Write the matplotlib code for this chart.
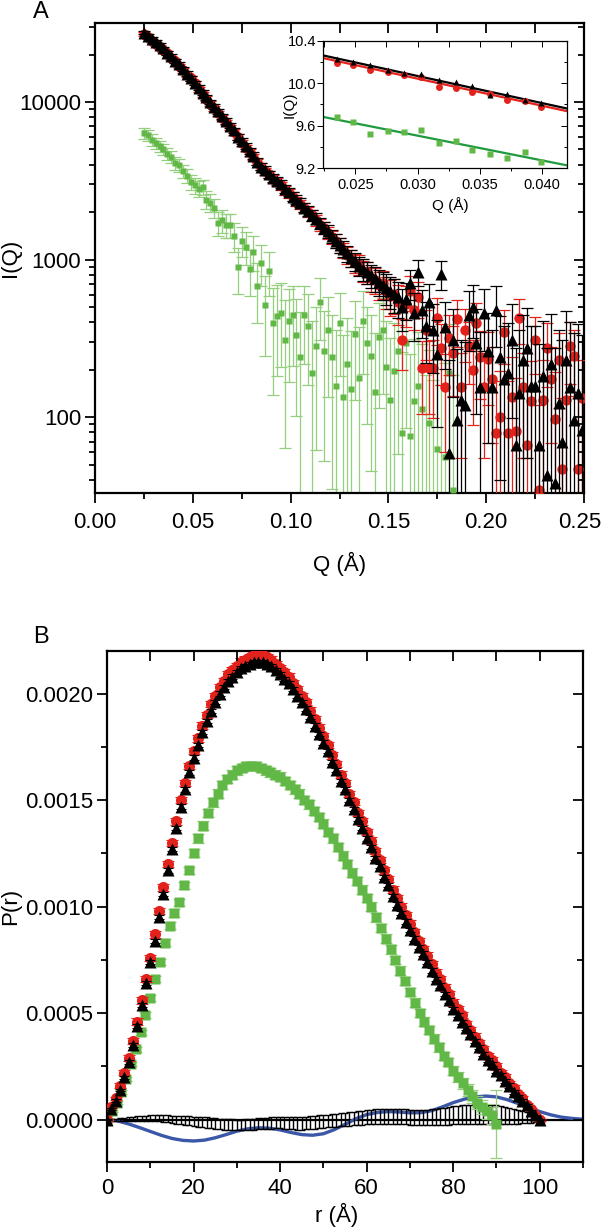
import numpy as np
import matplotlib
matplotlib.use("Agg")
import matplotlib.pyplot as plt
from matplotlib.ticker import LogLocator, NullFormatter, MultipleLocator, FixedLocator
from matplotlib.transforms import ScaledTranslation

plt.rcParams['font.family'] = ['Liberation Sans', 'DejaVu Sans']

# ---------------- panel A : scattering curves ----------------
# log10 I(Q) on a Q grid starting at q_start with step q_step
q_start = 0.025
q_step = 0.002
black_logI = [
    4.44, 4.42, 4.40, 4.38, 4.36, 4.34, 4.31, 4.29, 4.26, 4.24,
    4.21, 4.18, 4.15, 4.12, 4.09, 4.06, 4.03, 4.00, 3.97, 3.94,
    3.91, 3.88, 3.85, 3.82, 3.78, 3.75, 3.72, 3.69, 3.66, 3.62,
    3.59, 3.57, 3.54, 3.52, 3.50, 3.48, 3.45, 3.43, 3.40, 3.38,
    3.36, 3.33, 3.31, 3.28, 3.26, 3.23, 3.20, 3.18, 3.15, 3.12,
    3.09, 3.07, 3.04, 3.01, 2.99, 2.96, 2.94, 2.92, 2.90, 2.88,
    2.86, 2.84, 2.82, 2.80, 2.78, 2.76, 2.70, 2.75, 2.85, 2.66,
    2.92, 2.68, 2.58, 2.73, 2.55, 2.40, 2.91, 2.57, 1.77, 2.49,
    1.98, 2.11, 2.08, 2.65, 2.70, 2.47, 2.19, 2.66, 2.42, 2.19,
    2.68, 2.38, 2.24, 2.28, 2.49, 1.82, 2.15, 2.36, 2.44, 2.20,
    2.20, 1.82, 2.26, 1.63, 2.34, 1.58, 2.09, 1.84, 2.36, 2.19,
    1.98, 2.15, 1.92]
red_logI = [
    4.43, 4.41, 4.39, 4.37, 4.35, 4.33, 4.31, 4.28, 4.26, 4.23,
    4.20, 4.17, 4.15, 4.12, 4.08, 4.05, 4.02, 3.99, 3.96, 3.93,
    3.90, 3.87, 3.84, 3.81, 3.78, 3.74, 3.71, 3.68, 3.65, 3.62,
    3.59, 3.56, 3.54, 3.51, 3.49, 3.47, 3.44, 3.42, 3.40, 3.37,
    3.35, 3.33, 3.30, 3.28, 3.25, 3.22, 3.20, 3.17, 3.14, 3.12,
    3.09, 3.06, 3.03, 3.01, 2.98, 2.97, 2.93, 2.92, 2.88, 2.87,
    2.84, 2.85, 2.80, 2.77, 2.78, 2.73, 2.49, 2.72, 2.80, 2.68,
    2.76, 2.31, 2.55, 2.31, 2.31, 2.63, 2.44, 2.19, 2.50, 2.41,
    2.62, 2.19, 2.55, 2.45, 2.30, 2.60, 2.38, 2.19, 2.37, 2.24,
    1.90, 2.00, 2.54, 1.90, 2.13, 1.91, 2.63, 2.19, 1.82, 2.10,
    2.49, 1.54, 2.11, 2.44, 2.24, 1.99, 2.36, 1.67, 2.11, 2.45,
    2.39, 1.67, 2.12]
black_err = [
    700, 680, 660, 640, 620, 600, 580, 560, 540, 520,
    500, 480, 460, 440, 420, 400, 380, 360, 340, 320,
    300, 290, 280, 270, 260, 250, 240, 230, 220, 210,
    200, 195, 190, 185, 180, 175, 170, 165, 160, 155,
    150, 148, 146, 144, 142, 140, 138, 136, 134, 132,
    130, 130, 130, 130, 130, 130, 135, 135, 135, 140,
    140, 140, 145, 145, 145, 150, 150, 150, 155, 155,
    155, 160, 160, 160, 165, 165, 170, 170, 170, 175,
    175, 180, 180, 185, 185, 190, 190, 195, 195, 200,
    200, 200, 205, 205, 210, 210, 215, 215, 220, 220,
    220, 225, 225, 230, 230, 235, 235, 240, 240, 245,
    245, 250, 250]
red_err = [
    680, 670, 650, 630, 610, 590, 570, 550, 530, 510,
    490, 470, 450, 430, 410, 390, 370, 350, 330, 310,
    295, 285, 275, 265, 255, 245, 235, 225, 215, 205,
    198, 192, 188, 182, 178, 172, 168, 162, 158, 152,
    150, 146, 144, 142, 140, 138, 136, 134, 132, 130,
    130, 128, 130, 132, 130, 132, 134, 136, 138, 140,
    142, 144, 146, 148, 150, 152, 110, 150, 158, 120,
    150, 100, 125, 100, 105, 140, 115, 95, 130, 120,
    140, 100, 130, 120, 110, 135, 110, 100, 115, 105,
    90, 95, 130, 90, 105, 95, 135, 100, 90, 100,
    120, 85, 100, 120, 105, 95, 115, 85, 100, 120,
    110, 85, 100]

g_start = 0.025
green_logI = [
    3.80, 3.79, 3.76, 3.74, 3.72, 3.70, 3.67, 3.65, 3.61, 3.60,
    3.56, 3.53, 3.49, 3.47, 3.45, 3.46, 3.38, 3.36, 3.33, 3.23,
    3.25, 3.22, 3.22, 3.15, 2.95, 3.12, 3.08, 2.94, 3.05, 2.83,
    2.98, 2.71, 2.93, 2.60, 2.64, 2.66, 2.49, 2.61, 2.65, 2.52,
    2.38, 2.65, 2.58, 2.28, 2.45, 2.73, 2.42, 2.55, 2.38, 2.20,
    2.60, 2.13, 2.34, 2.18, 2.53, 2.25, 2.61, 2.47, 2.39, 2.16,
    2.51, 2.55, 2.32, 2.11, 2.29, 2.42, 1.90, 2.47, 1.88, 2.10,
    2.20, 2.05, 1.40, 1.96, 1.35, 1.80, 1.30, 1.75, 2.28, 1.54]
green_err = [
    500, 480, 470, 450, 440, 420, 400, 390, 380, 370,
    360, 350, 340, 330, 320, 310, 305, 300, 300, 295,
    295, 290, 290, 290, 285, 285, 285, 280, 280, 280,
    275, 270, 265, 260, 255, 250, 245, 240, 235, 230,
    225, 230, 220, 215, 220, 230, 210, 220, 205, 200,
    215, 195, 205, 200, 210, 195, 220, 205, 200, 195,
    210, 215, 200, 190, 200, 205, 180, 210, 175, 185,
    190, 180, 160, 175, 150, 170, 140, 165, 200, 150]

# inset: Guinier region (ln I)
q_inset = [0.0235, 0.0248, 0.0262, 0.0276, 0.0289, 0.0303, 0.0317,
           0.0331, 0.0344, 0.0358, 0.0372, 0.0386, 0.0399]
black_ln = [10.226, 10.204, 10.173, 10.125, 10.094, 10.084, 10.030,
            10.008, 9.977, 9.888, 9.898, 9.847, 9.816]
red_ln = [10.195, 10.173, 10.130, 10.110, 10.078, 10.056, 9.967,
          9.960, 9.920, 9.895, 9.840, 9.830, 9.778]
green_ln = [9.683, 9.636, 9.522, 9.554, 9.538, 9.563, 9.437,
            9.456, 9.367, 9.336, 9.295, 9.352, 9.257]
fit_q = [0.0224, 0.0420]
fit_black = [10.264, 9.762]
fit_red = [10.239, 9.737]
fit_green = [9.683, 9.225]

# ---------------- panel B : pair distance distributions ----------------
r_tri = np.arange(0, 101)  # 1 A steps
pr_black = [
    0.0, 0.00005, 0.00009, 0.00014, 0.0002, 0.00027, 0.00035, 0.00044, 0.00054, 0.00064,
    0.00074, 0.00084, 0.00095, 0.00106, 0.00117, 0.00127, 0.00137, 0.00147, 0.00155, 0.00163,
    0.0017, 0.00176, 0.00182, 0.00187, 0.00192, 0.00196, 0.002, 0.00203, 0.00206, 0.00208,
    0.0021, 0.00212, 0.00213, 0.00214, 0.00215, 0.00215, 0.00215, 0.00214, 0.00213, 0.00211,
    0.00209, 0.00207, 0.00205, 0.00202, 0.00199, 0.00196, 0.00193, 0.00189, 0.00185, 0.00181,
    0.00177, 0.00173, 0.00168, 0.00164, 0.00159, 0.00155, 0.0015, 0.00146, 0.00141, 0.00137,
    0.00132, 0.00128, 0.00123, 0.00119, 0.00114, 0.0011, 0.00105, 0.00101, 0.00097, 0.00093,
    0.00089, 0.00085, 0.00081, 0.00078, 0.00074, 0.0007, 0.00066, 0.00063, 0.00059, 0.00056,
    0.00052, 0.00049, 0.00046, 0.00043, 0.0004, 0.00037, 0.00034, 0.00031, 0.00028, 0.00026,
    0.00023, 0.00021, 0.00018, 0.00016, 0.00013, 0.00011, 0.00009, 0.00007, 0.00004, 0.00002,
    0.0]
pr_red = [
    0.0, 0.00006, 0.0001, 0.00016, 0.00022, 0.00029, 0.00037, 0.00046, 0.00056, 0.00066,
    0.00076, 0.00087, 0.00098, 0.00109, 0.0012, 0.0013, 0.0014, 0.0015, 0.00158, 0.00166,
    0.00173, 0.00179, 0.00185, 0.0019, 0.00195, 0.00199, 0.00203, 0.00206, 0.00209, 0.00211,
    0.00213, 0.00215, 0.00216, 0.00217, 0.00218, 0.00218, 0.00218, 0.00217, 0.00216, 0.00214,
    0.00212, 0.0021, 0.00208, 0.00205, 0.00202, 0.00199, 0.00196, 0.00192, 0.00188, 0.00184,
    0.0018, 0.00176, 0.00171, 0.00167, 0.00162, 0.00158, 0.00153, 0.00149, 0.00144, 0.0014,
    0.00135, 0.00131, 0.00126, 0.00122, 0.00117, 0.00113, 0.00108, 0.00104, 0.001, 0.00096,
    0.00092, 0.00088, 0.00084, 0.0008, 0.00077, 0.00073, 0.00069, 0.00066, 0.00062, 0.00059,
    0.00055, 0.00052, 0.00049, 0.00045, 0.00042, 0.00039, 0.00036, 0.00033, 0.0003, 0.00028,
    0.00025, 0.00022, 0.0002, 0.00017, 0.00015, 0.00012, 0.0001, 0.00007, 0.00005, 0.00002,
    0.0]
# errors in units of 1e-5
pr_black_err = [
    0.3, 0.4, 0.5, 0.6, 0.7, 0.8, 0.9, 1.0, 1.0, 1.0,
    1.0, 1.0, 1.0, 1.0, 1.0, 1.0, 1.0, 1.0, 1.0, 1.0,
    1.0, 1.0, 1.0, 1.0, 1.0, 1.0, 1.0, 1.0, 1.0, 1.0,
    1.0, 1.0, 1.0, 1.0, 1.0, 1.0, 1.0, 1.0, 1.0, 1.0,
    1.0, 1.0, 1.0, 1.0, 1.0, 1.0, 1.0, 1.0, 1.0, 1.0,
    1.0, 1.0, 1.0, 1.0, 1.0, 1.0, 1.0, 1.0, 1.0, 1.0,
    1.0, 1.0, 1.0, 1.0, 1.0, 1.0, 1.0, 1.0, 1.0, 1.0,
    1.0, 1.0, 1.0, 1.0, 1.0, 1.0, 1.0, 1.0, 1.0, 1.0,
    1.0, 1.0, 1.0, 1.0, 1.0, 1.0, 1.0, 1.0, 1.0, 1.0,
    1.0, 1.0, 1.0, 1.0, 0.9, 0.8, 0.7, 0.6, 0.5, 0.4,
    0.3]
pr_red_err = [
    0.4, 0.6, 0.8, 1.0, 1.2, 1.4, 1.5, 1.5, 1.5, 1.5,
    1.5, 1.5, 1.5, 1.5, 1.5, 1.5, 1.5, 1.5, 1.5, 1.5,
    1.5, 1.5, 1.5, 1.5, 1.5, 1.5, 1.5, 1.5, 1.5, 1.5,
    1.5, 1.5, 1.5, 1.5, 1.5, 1.5, 1.5, 1.5, 1.5, 1.5,
    1.5, 1.5, 1.5, 1.5, 1.5, 1.5, 1.5, 1.5, 1.5, 1.5,
    1.5, 1.5, 1.5, 1.5, 1.5, 1.5, 1.5, 1.5, 1.5, 1.5,
    1.5, 1.5, 1.5, 1.5, 1.5, 1.5, 1.5, 1.5, 1.5, 1.5,
    1.5, 1.5, 1.5, 1.5, 1.5, 1.5, 1.5, 1.5, 1.5, 1.5,
    1.5, 1.5, 1.5, 1.5, 1.5, 1.5, 1.5, 1.5, 1.5, 1.5,
    1.5, 1.4, 1.3, 1.2, 1.1, 1.0, 0.9, 0.8, 0.6, 0.5,
    0.4]

r_green = np.linspace(0, 90, 82)
pr_green = [
    0.0, 0.00004, 0.00008, 0.00013, 0.00019, 0.00026, 0.00033, 0.00041, 0.00049, 0.00057,
    0.00066, 0.00074, 0.00083, 0.00091, 0.00097, 0.00102, 0.0011, 0.00117, 0.00125, 0.00132,
    0.00138, 0.00144, 0.00149, 0.00153, 0.00157, 0.0016, 0.00162, 0.00164, 0.00165, 0.00166,
    0.00166, 0.00166, 0.00165, 0.00164, 0.00163, 0.00162, 0.00161, 0.00159, 0.00157, 0.00155,
    0.00153, 0.0015, 0.00148, 0.00145, 0.00142, 0.00139, 0.00135, 0.00132, 0.00128, 0.00124,
    0.0012, 0.00116, 0.00112, 0.00108, 0.00104, 0.001, 0.00095, 0.0009, 0.00085, 0.0008,
    0.00075, 0.0007, 0.00065, 0.0006, 0.00055, 0.0005, 0.00046, 0.00042, 0.00038, 0.00034,
    0.0003, 0.00027, 0.00023, 0.0002, 0.00017, 0.00014, 0.00011, 0.00008, 0.00006, 0.00004,
    0.00002, -0.00002]
pr_green_err = [
    0.3, 0.5, 0.6, 0.8, 1.0, 1.0, 1.2, 1.2, 1.4, 1.4,
    1.5, 1.5, 1.6, 1.6, 1.7, 1.7, 1.8, 1.8, 1.9, 1.9,
    2.0, 2.0, 2.0, 2.0, 2.0, 2.0, 2.0, 2.0, 2.0, 2.0,
    2.0, 2.0, 2.0, 2.0, 2.0, 2.0, 2.0, 2.0, 2.0, 2.0,
    2.0, 2.0, 2.0, 2.0, 2.0, 2.0, 2.0, 2.0, 2.0, 2.0,
    2.0, 2.0, 2.0, 2.0, 2.0, 2.0, 2.0, 2.0, 2.0, 2.0,
    2.0, 2.0, 2.0, 2.0, 2.0, 2.0, 2.0, 2.0, 2.0, 2.0,
    2.0, 2.0, 2.2, 2.4, 2.6, 2.8, 3.0, 3.2, 3.4, 3.6,
    4.0, 16.0]

# residual-like curve around zero (units 1e-5)
diff_pr = [
    0.0, 0.0, 0.0, 0.1, 0.2, 0.3, 0.4, 0.5, 0.6, 0.7,
    0.8, 0.8, 0.8, 0.6, 0.4, 0.2, 0.0, -0.2, -0.4, -0.6,
    -0.8, -1.0, -1.2, -1.4, -1.6, -1.8, -2.0, -2.2, -2.3, -2.4,
    -2.5, -2.5, -2.4, -2.3, -2.2, -2.0, -1.8, -1.6, -1.5, -1.4,
    -1.4, -1.5, -1.6, -1.7, -1.8, -1.8, -1.7, -1.5, -1.3, -1.0,
    -0.8, -0.6, -0.4, -0.2, 0.0, 0.2, 0.4, 0.6, 0.8, 1.0,
    1.2, 1.4, 1.5, 1.6, 1.6, 1.6, 1.6, 1.5, 1.4, 1.3,
    1.2, 1.1, 1.0, 1.0, 1.0, 1.1, 1.2, 1.4, 1.6, 1.8,
    2.0, 2.2, 2.4, 2.5, 2.6, 2.7, 2.7, 2.7, 2.6, 2.5,
    2.4, 2.2, 2.0, 1.8, 1.6, 1.4, 1.2, 1.0, 0.8, 0.5,
    0.2]
diff_err = [
    0.3, 0.4, 0.5, 0.6, 0.7, 0.8, 0.9, 1.0, 1.0, 1.1,
    1.2, 1.3, 1.4, 1.5, 1.6, 1.7, 1.8, 1.9, 2.0, 2.1,
    2.2, 2.3, 2.4, 2.5, 2.5, 2.5, 2.5, 2.5, 2.5, 2.5,
    2.5, 2.5, 2.5, 2.5, 2.5, 2.6, 2.6, 2.6, 2.7, 2.7,
    2.7, 2.8, 2.8, 2.8, 2.9, 2.9, 2.9, 3.0, 3.0, 3.0,
    3.0, 3.0, 3.0, 3.1, 3.1, 3.1, 3.2, 3.2, 3.2, 3.3,
    3.3, 3.3, 3.4, 3.4, 3.4, 3.5, 3.5, 3.5, 3.5, 3.5,
    3.5, 3.5, 3.5, 3.6, 3.6, 3.7, 3.8, 3.9, 4.0, 4.1,
    4.2, 4.3, 4.4, 4.5, 4.5, 4.5, 4.5, 4.5, 4.5, 4.4,
    4.3, 4.1, 3.9, 3.7, 3.5, 3.2, 2.9, 2.6, 2.2, 1.8,
    1.5]

r_blue = np.arange(0, 110.1, 2.5)
pr_blue = [
    0.0, -0.000006, -0.00002, -0.000037, -0.000055, -0.000073, -0.000088, -0.000097,
    -0.0001, -0.000096, -0.000085, -0.00007, -0.000054, -0.000043, -0.000038, -0.00004,
    -0.000048, -0.00006, -0.00007, -0.000073, -0.000066, -0.000047, -0.000022, 0.000004,
    0.000024, 0.000034, 0.000038, 0.000036, 0.000032, 0.000033, 0.000042, 0.00006,
    0.00008, 0.000096, 0.000107, 0.000111, 0.000107, 0.000094, 0.000076, 0.000056,
    0.000038, 0.000023, 0.000012, 0.000006, 0.000002]

# colours
RED = '#e3221c'
GREEN = '#62b846'
GREEN_BAR = '#93cf7c'
GREEN_FIT = '#1f9a3e'
BLUE = '#3b58a8'

FS = 16


def style_axes(ax, xmaj, ymaj, ymin, lw=1.6, tl=7, fs=FS, xpad=7, ypad=3, logy=False):
    for s in ax.spines.values():
        s.set_linewidth(lw)
    ax.tick_params(which='both', direction='out', width=lw * 0.8, labelsize=fs)
    ax.tick_params(which='major', length=tl)
    ax.tick_params(which='minor', length=tl * 0.6)
    ax.tick_params(axis='x', pad=xpad)
    ax.tick_params(axis='y', pad=ypad)
    # mirrored ticks on top / right pointing into the plot
    tx = ax.twiny()
    tx.set_xlim(ax.get_xlim())
    tx.xaxis.set_major_locator(FixedLocator(xmaj))
    tx.tick_params(which='both', direction='in', labeltop=False, width=lw * 0.8)
    tx.tick_params(which='major', length=tl)
    ty = ax.twinx()
    if logy:
        ty.set_yscale('log')
    ty.set_ylim(ax.get_ylim())
    ty.yaxis.set_major_locator(FixedLocator(ymaj))
    if logy:
        ty.yaxis.set_minor_locator(LogLocator(base=10, subs=np.arange(2, 10)))
        ty.yaxis.set_minor_formatter(NullFormatter())
    else:
        ty.yaxis.set_minor_locator(FixedLocator(ymin))
    ty.tick_params(which='both', direction='in', labelright=False, width=lw * 0.8)
    ty.tick_params(which='major', length=tl)
    ty.tick_params(which='minor', length=tl * 0.6)
    for t in (tx, ty):
        for s in t.spines.values():
            s.set_visible(False)


fig = plt.figure(figsize=(6.03, 12.29), dpi=100)

# ---------- panel A ----------
axA = fig.add_axes([95 / 603, 1 - 493 / 1229, 489 / 603, 470 / 1229])
qb = q_start + q_step * np.arange(len(black_logI))
qg = g_start + q_step * np.arange(len(green_logI))
Ib = 10 ** np.array(black_logI)
Ir = 10 ** np.array(red_logI)
Ig = 10 ** np.array(green_logI)

axA.errorbar(qg, Ig, yerr=green_err, fmt='none', ecolor=GREEN_BAR, elinewidth=0.9,
             capsize=4.5, capthick=0.9, zorder=2)
axA.plot(qg, Ig, 's', color=GREEN, ms=4.5, mec='none', zorder=3)
axA.errorbar(qb, Ir, yerr=red_err, fmt='none', ecolor=RED, elinewidth=0.9,
             capsize=4, capthick=0.9, zorder=4)
axA.plot(qb, Ir, 'o', color=RED, ms=7.5, mec='none', zorder=4)
axA.errorbar(qb, Ib, yerr=black_err, fmt='none', ecolor='black', elinewidth=0.9,
             capsize=4, capthick=0.9, zorder=5)
axA.plot(qb, Ib, '^', color='black', ms=8.5, mec='none', zorder=6)

axA.set_yscale('log')
axA.set_xlim(0, 0.25)
axA.set_ylim(33, 31700)
axA.set_xticks([0.0, 0.05, 0.10, 0.15, 0.20, 0.25])
axA.set_xticklabels(['0.00', '0.05', '0.10', '0.15', '0.20', '0.25'])
axA.xaxis.set_minor_locator(MultipleLocator(0.025))
axA.yaxis.set_major_locator(FixedLocator([100, 1000, 10000]))
axA.set_yticklabels(['100', '1000', '10000'])
axA.yaxis.set_minor_locator(LogLocator(base=10, subs=np.arange(2, 10)))
axA.yaxis.set_minor_formatter(NullFormatter())
axA.set_xlabel('Q (Å)', fontsize=FS)
axA.set_ylabel('I(Q)', fontsize=FS)
axA.xaxis.set_label_coords(0.5, -0.125)
axA.yaxis.set_label_coords(-0.151, 0.5)
style_axes(axA, np.arange(0, 0.251, 0.025), [100, 1000, 10000], None, logy=True)
# the last tick label sits at the figure edge; nudge it inside
last = axA.get_xticklabels()[-1]
last.set_transform(last.get_transform() + ScaledTranslation(-0.04, 0, fig.dpi_scale_trans))

# inset
axI = fig.add_axes([323 / 603, 1 - 168 / 1229, 244 / 603, 127 / 1229])
axI.plot(fit_q, fit_black, color='black', lw=1.6, zorder=3)
axI.plot(fit_q, fit_red, color=RED, lw=1.6, zorder=2)
axI.plot(fit_q, fit_green, color=GREEN_FIT, lw=1.6, zorder=2)
axI.plot(q_inset, green_ln, 's', color=GREEN, ms=4.5, mec='none', zorder=3)
axI.plot(q_inset, red_ln, 'o', color=RED, ms=5, mec='none', zorder=3)
axI.plot(q_inset, black_ln, '^', color='black', ms=5, mec='none', zorder=4)
axI.set_xlim(0.0224, 0.0420)
axI.set_ylim(9.2, 10.4)
axI.set_xticks([0.025, 0.030, 0.035, 0.040])
axI.set_xticklabels(['0.025', '0.030', '0.035', '0.040'])
axI.xaxis.set_minor_locator(FixedLocator([0.0225, 0.0275, 0.0325, 0.0375]))
axI.set_yticks([9.2, 9.6, 10.0, 10.4])
axI.set_yticklabels(['9.2', '9.6', '10.0', '10.4'])
axI.yaxis.set_minor_locator(FixedLocator([9.4, 9.8, 10.2]))
axI.set_xlabel('Q (Å)', fontsize=11)
axI.set_ylabel('I(Q)', fontsize=11)
axI.xaxis.set_label_coords(0.52, -0.228)
axI.yaxis.set_label_coords(-0.107, 0.5)
style_axes(axI, [0.0225, 0.025, 0.0275, 0.030, 0.0325, 0.035, 0.0375, 0.040],
           [9.2, 9.6, 10.0, 10.4], [9.4, 9.8, 10.2], lw=0.9, tl=4, fs=10.5, xpad=3, ypad=1)

# ---------- panel B ----------
axB = fig.add_axes([107 / 603, 1 - 1162.3 / 1229, 476 / 603, 511.3 / 1229])
axB.axhline(0, color='black', lw=1.6, zorder=1)
axB.plot(r_blue, pr_blue, color=BLUE, lw=2.4, zorder=2)
axB.errorbar(r_tri, np.array(diff_pr) * 1e-5, yerr=np.array(diff_err) * 1e-5, fmt='none',
             ecolor='black', elinewidth=1.0, capsize=2.5, capthick=1.0, zorder=3)
axB.errorbar(r_green, pr_green, yerr=np.array(pr_green_err) * 1e-5, fmt='s', color=GREEN,
             ms=7, mec='none', ecolor=GREEN_BAR, elinewidth=0.9, capsize=4.5, capthick=0.9,
             zorder=4)
axB.errorbar(r_tri, pr_red, yerr=np.array(pr_red_err) * 1e-5, fmt='o', color=RED,
             ms=8, mec='none', ecolor=RED, elinewidth=0.8, capsize=4.5, capthick=0.8, zorder=5)
axB.errorbar(r_tri, pr_black, yerr=np.array(pr_black_err) * 1e-5, fmt='^', color='black',
             ms=8, mec='none', ecolor='black', elinewidth=0.8, capsize=3.5, capthick=0.8,
             zorder=6)
axB.set_xlim(0, 110)
axB.set_ylim(-0.0002, 0.0022)
axB.set_xticks([0, 20, 40, 60, 80, 100])
axB.xaxis.set_minor_locator(MultipleLocator(10))
axB.set_yticks([0.0, 0.0005, 0.0010, 0.0015, 0.0020])
axB.set_yticklabels(['0.0000', '0.0005', '0.0010', '0.0015', '0.0020'])
axB.yaxis.set_minor_locator(FixedLocator([0.00025, 0.00075, 0.00125, 0.00175]))
axB.set_xlabel('r (Å)', fontsize=FS)
axB.set_ylabel('P(r)', fontsize=FS)
axB.xaxis.set_label_coords(0.483, -0.08)
axB.yaxis.set_label_coords(-0.181, 0.5)
style_axes(axB, np.arange(0, 111, 10), [0.0, 0.0005, 0.0010, 0.0015, 0.0020],
           [0.00025, 0.00075, 0.00125, 0.00175], xpad=4)

fig.text(41 / 603, 1 - 12 / 1229, 'A', fontsize=FS + 1, ha='center', va='center')
fig.text(41 / 603, 1 - 637 / 1229, 'B', fontsize=FS + 1, ha='center', va='center')

fig.savefig('out.png', dpi=100)
